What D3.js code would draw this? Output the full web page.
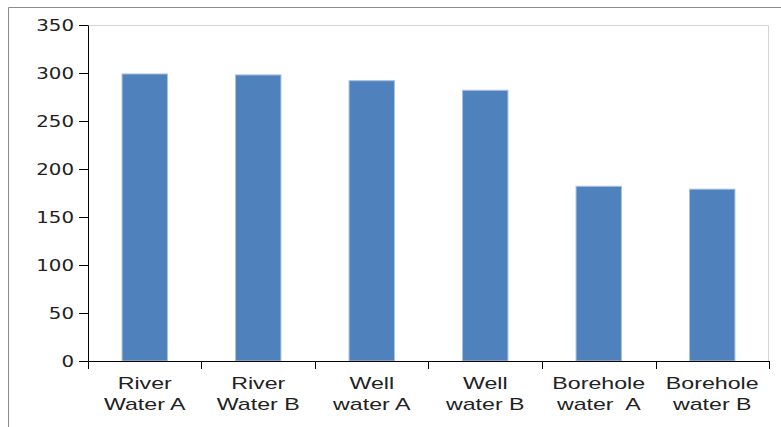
<!DOCTYPE html>
<html>
<head>
<meta charset="utf-8">
<script src="https://cdn.jsdelivr.net/npm/d3@7"></script>
<style>
  html, body { margin: 0; padding: 0; background: #fff; }
  svg { display: block; }
  text { white-space: pre; }
</style>
</head>
<body>
<svg id="chart" width="781" height="427"></svg>
<script>
// Sample sources (two-line labels) and measured values
const categories = [
  ["River", "Water A"],
  ["River", "Water B"],
  ["Well", "water A"],
  ["Well", "water B"],
  ["Borehole", "water  A"],
  ["Borehole", "water B"]
];
const values = [299, 298, 292, 282, 182, 179];
const yTicks = [0, 50, 100, 150, 200, 250, 300, 350];

const svg = d3.select("#chart");
const W = 781, H = 427;
const plot = { left: 88, right: 769, top: 25, bottom: 361 };

// Outer chart frame (only top and left edges fall inside the view)
svg.append("path")
  .attr("d", `M8.5,${H} V7.5 H${W}`)
  .attr("fill", "none")
  .attr("stroke", "#8c8c8c")
  .attr("stroke-width", 1);

// Plot area border (top and right)
svg.append("path")
  .attr("d", `M${plot.left},${plot.top + 0.5} H${plot.right - 0.5} V${plot.bottom}`)
  .attr("fill", "none")
  .attr("stroke", "#d4d4d4")
  .attr("stroke-width", 1);

const keys = categories.map((c, i) => i);
const x = d3.scaleBand()
  .domain(keys)
  .range([plot.left, plot.right])
  .paddingInner(0.6)
  .paddingOuter(0.3);

const y = d3.scaleLinear()
  .domain([0, 350])
  .range([plot.bottom, plot.top]);

// Bars
svg.append("g")
  .selectAll("rect")
  .data(values)
  .join("rect")
  .attr("x", (d, i) => x(i))
  .attr("y", d => y(d))
  .attr("width", x.bandwidth())
  .attr("height", d => y(0) - y(d))
  .attr("fill", "#4f81bd")
  .attr("stroke", "#a9c1e0")
  .attr("stroke-width", 1);

// Y axis
const yAxis = svg.append("g")
  .attr("transform", `translate(${plot.left},0)`)
  .call(d3.axisLeft(y).tickValues(yTicks).tickSize(9).tickPadding(5).tickSizeOuter(0));
yAxis.select(".domain").attr("stroke", "#000");
yAxis.selectAll(".tick line").attr("stroke", "#000");
yAxis.selectAll(".tick text")
  .attr("fill", "#222")
  .attr("font-family", "DejaVu Sans, Verdana, sans-serif")
  .attr("font-size", 16)
  .attr("dy", "0.36em")
  .each(function () {
    const t = d3.select(this);
    const tx = +t.attr("x");
    // widen the glyphs around the right anchor
    t.attr("x", tx / 1.24).attr("transform", "scale(1.24,1)");
  });

// X axis: line plus ticks at the band boundaries
const xg = svg.append("g");
xg.append("line")
  .attr("x1", plot.left).attr("x2", plot.right)
  .attr("y1", plot.bottom + 0.5).attr("y2", plot.bottom + 0.5)
  .attr("stroke", "#000");
const bounds = keys.map(i => x(i) - x.step() * x.paddingInner() / 2).concat([plot.right]);
xg.selectAll("line.tk")
  .data(bounds)
  .join("line")
  .attr("class", "tk")
  .attr("x1", d => Math.round(d) + 0.5).attr("x2", d => Math.round(d) + 0.5)
  .attr("y1", plot.bottom).attr("y2", plot.bottom + 8)
  .attr("stroke", "#000");

// Category labels (two lines each)
const sx = 1.45;
const lab = xg.selectAll("g.lab")
  .data(categories)
  .join("g")
  .attr("class", "lab")
  .attr("transform", (d, i) => `translate(${x(i) + x.bandwidth() / 2},0) scale(${sx},1)`);
lab.each(function (d) {
  const g = d3.select(this);
  d.forEach((line, j) => {
    g.append("text")
      .attr("x", 0)
      .attr("y", 389 + j * 21)
      .attr("text-anchor", "middle")
      .attr("fill", "#222")
      .attr("font-family", "Liberation Sans, Arial, sans-serif")
      .attr("font-size", 16)
      .text(line);
  });
});
</script>
</body>
</html>
